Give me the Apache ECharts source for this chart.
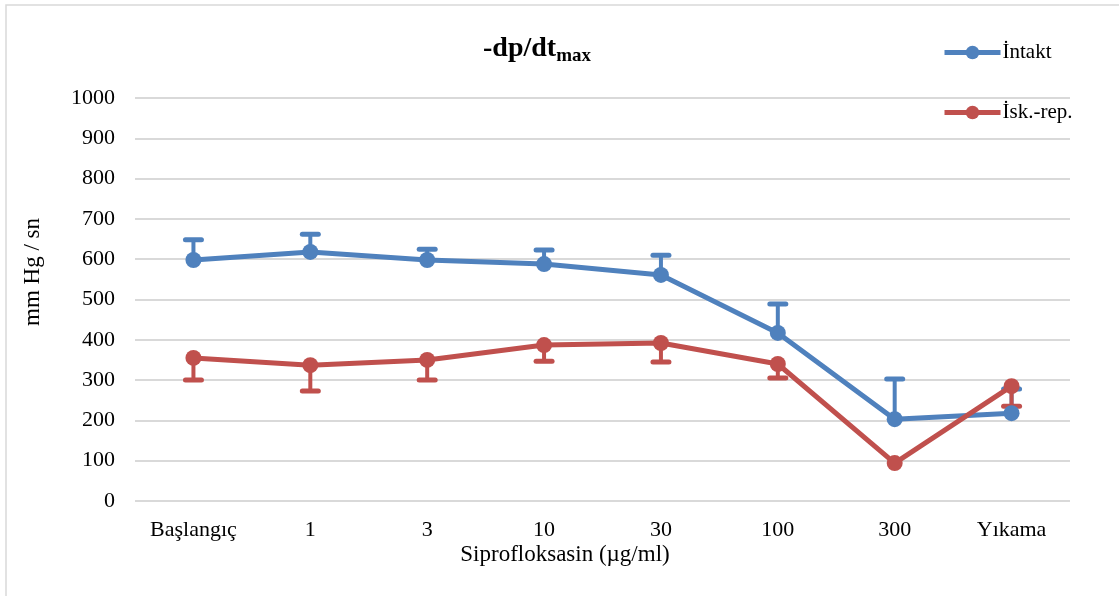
<!DOCTYPE html>
<html><head><meta charset="utf-8">
<script src="https://cdn.jsdelivr.net/npm/echarts@6/dist/echarts.min.js"></script>
<style>html,body{margin:0;padding:0;background:#fff}#c{width:1119px;height:596px}</style>
</head><body><div id="c"></div>
<script>
const categories = ['Başlangıç','1','3','10','30','100','300','Yıkama'];
const intakt = [598,618,598,588,561,417,203,218];
const intaktErr = [50,44,27,35,49,72,100,60];
const iskRep = [355,337,350,387,392,340,94,285];
const iskRepErr = [55,64,50,40,47,35,0,50];
const yTicks = {min:0,max:1000,interval:100};

const FONT = '"Liberation Serif","Times New Roman",serif';
const BLUE = '#4F81BD', RED = '#C0504D';

function errSeries(vals, errs, dir, color){
  return {
    type:'custom', z:1, silent:true,
    data: vals.map((v,i)=>[i,v,errs[i]]),
    renderItem:function(params, api){
      const i=api.value(0), v=api.value(1), e=api.value(2);
      if(!e) return null;
      const p0=api.coord([i,v]); const p1=api.coord([i,v+dir*e]);
      return {type:'group',children:[
        {type:'line',shape:{x1:p0[0],y1:p0[1],x2:p1[0],y2:p1[1]},style:{stroke:color,lineWidth:4}},
        {type:'line',shape:{x1:p1[0]-8,y1:p1[1],x2:p1[0]+8,y2:p1[1]},style:{stroke:color,lineWidth:5,lineCap:'round'}}
      ]};
    }
  };
}

const chart = echarts.init(document.getElementById('c'));
chart.setOption({
  animation:false,
  backgroundColor:'#fff',
  graphic:[
    {type:'rect',shape:{x:6,y:5,width:1300,height:800},style:{fill:'none',stroke:'#d9d9d9',lineWidth:1.5},z:-10},
    {type:'text',x:33,y:272,rotation:Math.PI/2,style:{text:'mm Hg / sn',fontFamily:FONT,fontSize:23,fill:'#000',textAlign:'center',textVerticalAlign:'middle'}},
    {type:'text',x:565,y:555,style:{text:'Siprofloksasin (µg/ml)',fontFamily:FONT,fontSize:23,fill:'#000',textAlign:'center',textVerticalAlign:'middle'}}
  ],
  title:{
    text:'-dp/dt{sub|max}', left:532, top:26, textAlign:'center',
    textStyle:{fontFamily:FONT,fontSize:28,fontWeight:'bold',color:'#000',
      rich:{sub:{fontFamily:FONT,fontSize:19,fontWeight:'bold',color:'#000',padding:[16,0,0,0]}}}
  },
  legend:{
    orient:'vertical', left:942, top:42, padding:0, itemWidth:56, itemHeight:17, itemGap:39,
    lineStyle:{width:5},
    textStyle:{fontFamily:FONT,fontSize:21,color:'#000',padding:[0,0,0,-3]},
    data:['İntakt','İsk.-rep.']
  },
  grid:{left:135,right:49,top:98,bottom:95},
  xAxis:{
    type:'category', data:categories, boundaryGap:true,
    axisLine:{show:false}, axisTick:{show:false},
    axisLabel:{fontFamily:FONT,fontSize:22,color:'#000',margin:18}
  },
  yAxis:{
    type:'value', min:yTicks.min, max:yTicks.max, interval:yTicks.interval,
    axisLine:{show:false}, axisTick:{show:false},
    axisLabel:{fontFamily:FONT,fontSize:22,color:'#000',margin:20,formatter:v=>String(v)},
    splitLine:{lineStyle:{color:'#d9d9d9',width:2}}
  },
  series:[
    errSeries(intakt,intaktErr,1,BLUE),
    errSeries(iskRep,iskRepErr,-1,RED),
    {name:'İntakt',type:'line',data:intakt,z:3,symbol:'circle',symbolSize:16,
      lineStyle:{color:BLUE,width:5},itemStyle:{color:BLUE}},
    {name:'İsk.-rep.',type:'line',data:iskRep,z:4,symbol:'circle',symbolSize:16,
      lineStyle:{color:RED,width:5},itemStyle:{color:RED}}
  ]
});
</script></body></html>
